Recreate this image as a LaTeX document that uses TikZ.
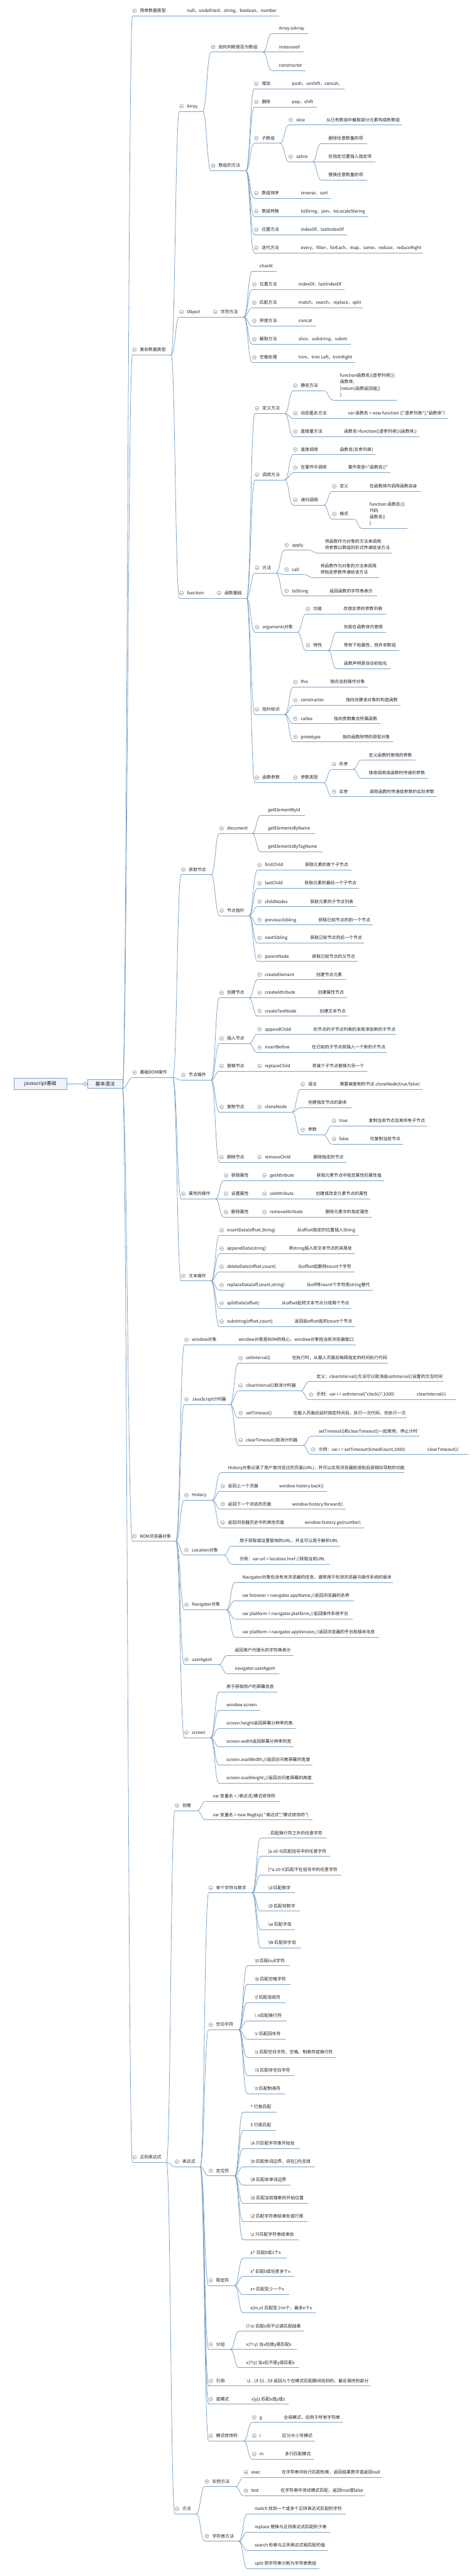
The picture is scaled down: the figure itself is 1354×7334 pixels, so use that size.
\documentclass[tikz,border=0pt]{standalone}
\usepackage{fontspec}
\newfontfamily\cjkf{Noto Sans CJK SC}
\definecolor{lc}{HTML}{7BA2C6}
\definecolor{tc}{HTML}{1E1E1E}
\definecolor{cc}{HTML}{8C8C8C}
\definecolor{bf}{HTML}{EEF4FA}
\tikzset{
  ln/.style={draw=lc, line width=0.7pt},
  tx/.style={anchor=south west, inner sep=0pt, text depth=4.9pt, align=left, text=tc,
    font=\cjkf\fontsize{6.15pt}{9.1pt}\selectfont},
  cir/.style={circle, draw=cc, fill=white, line width=0.5pt, minimum size=5.5pt, inner sep=0pt},
  basebox/.style={rectangle, draw=lc, fill=bf, line width=0.6pt, minimum width=49.5pt, minimum height=13pt,
    inner sep=0pt, text=tc, font=\cjkf\fontsize{7pt}{8pt}\selectfont},
  rootbox/.style={rectangle, draw=lc, fill=bf, line width=0.6pt, minimum width=75pt, minimum height=16pt,
    inner sep=0pt, text=tc, font=\cjkf\fontsize{7pt}{8pt}\selectfont}
}
\newcommand\lfn[5]{%
  \coordinate (#1-s) at (#2,#3);
  \coordinate (#1-e) at (#4,#3);
  \draw[ln] (#1-s) -- (#1-e);
  \node[tx] (#1) at ({#2+21},#3) {#5};}
\newcommand\prn[5]{%
  \lfn{#1}{#2}{#3}{#4}{#5}%
  \node[cir] (#1-c) at ({#2+6},{#3-14.5}) {};
  \draw[cc, line width=0.5pt] ({#2+3.2},{#3-14.5}) -- ({#2+8.8},{#3-14.5});}
\newcommand\cnx[2]{\draw[ln] (#1-e) .. controls +(12,0) and +(-12,0) .. (#2-s);}
\begin{document}
\begin{tikzpicture}[x=0.5pt,y=-0.5pt]
\fill[white] (0,0) rectangle (1354,7334);
\useasboundingbox (0,0) rectangle (1354,7334);

% root and main branch
\node[rootbox] (root) at (115,3086) {javascript基础};
\node[basebox] (base) at (299.5,3086) {基本语法};
\coordinate (base-s) at (243,3086);
\coordinate (base-e) at (349,3099);
\draw[ln] (root.east) -- (base-s);
\node[cir] (base-c) at (base-s) {};
\draw[cc, line width=0.5pt] (240.2,3086) -- (245.8,3086);

% ===== level 1 =====
\prn{s1}{377}{45.5}{487}{简单数据类型}
\prn{c1}{377}{1010.4}{487}{复杂数据类型}
\prn{d1}{377}{3068}{492}{基础DOM操作}
\prn{b1}{377}{4388.2}{501}{BOM浏览器对象}
\prn{r1}{377}{6156.2}{474}{正则表达式}
\cnx{base}{s1}\cnx{base}{c1}\cnx{base}{d1}\cnx{base}{b1}\cnx{base}{r1}

\lfn{s1a}{511}{45.5}{795}{null，undefined，string，boolean，number}
\cnx{s1}{s1a}

% ===== 复杂数据类型 =====
\prn{arr}{511}{317}{577}{Array}
\prn{obj}{511}{902.5}{583}{Object}
\prn{fun}{511}{1703}{594}{function}
\cnx{c1}{arr}\cnx{c1}{obj}\cnx{c1}{fun}

\prn{arr1}{601}{148.3}{749}{如何判断是否为数组}
\lfn{arr1a}{773}{96}{878}{Array.isArray}
\lfn{arr1b}{773}{148.3}{864}{instanceof}
\lfn{arr1c}{773}{200.5}{870}{constructor}
\cnx{arr}{arr1}\cnx{arr1}{arr1a}\cnx{arr1}{arr1b}\cnx{arr1}{arr1c}

\prn{arr2}{601}{486.3}{700}{数组的方法}
\cnx{arr}{arr2}
\prn{am1}{724}{252.3}{786}{增加}
\lfn{am1a}{810}{252.3}{982}{push，unshift，concat，}
\prn{am2}{724}{304.5}{786}{删除}
\lfn{am2a}{810}{304.5}{902}{pop，shift}
\prn{am3}{724}{408}{798}{子数组}
\prn{am3a}{822}{355.9}{884}{slice}
\lfn{am3a1}{908}{355.9}{1145}{从已有数组中截取部分元素构成新数组}
\prn{am3b}{822}{460.2}{890}{splice}
\lfn{am3b1}{914}{408.1}{1045}{删除任意数量的项}
\lfn{am3b2}{914}{460.2}{1069}{在指定位置插入指定项}
\lfn{am3b3}{914}{512.4}{1045}{替换任意数量的项}
\prn{am4}{724}{564.2}{811.5}{数组排序}
\lfn{am4a}{835.5}{564.2}{942}{reverse，sort}
\prn{am5}{724}{616}{811.5}{数组转换}
\lfn{am5a}{835.5}{616}{1048.5}{toString，join，toLocaleStaring}
\prn{am6}{724}{668}{811.5}{位置方法}
\lfn{am6a}{835.5}{668}{989}{indexOf，lastIndexOf}
\prn{am7}{724}{719.8}{811.5}{迭代方法}
\lfn{am7a}{835.5}{719.8}{1205}{every，filter，forEach，map，some，reduce，reduceRight}
\cnx{arr2}{am1}\cnx{arr2}{am2}\cnx{arr2}{am3}\cnx{arr2}{am4}\cnx{arr2}{am5}\cnx{arr2}{am6}\cnx{arr2}{am7}
\cnx{am1}{am1a}\cnx{am2}{am2a}\cnx{am3}{am3a}\cnx{am3}{am3b}\cnx{am3a}{am3a1}
\cnx{am3b}{am3b1}\cnx{am3b}{am3b2}\cnx{am3b}{am3b3}
\cnx{am4}{am4a}\cnx{am5}{am5a}\cnx{am6}{am6a}\cnx{am7}{am7a}

\prn{sm}{607}{902.5}{694}{字符方法}
\cnx{obj}{sm}
\lfn{sm1}{718}{772.4}{788}{charAt}
\prn{sm2}{718}{824.6}{805}{位置方法}
\lfn{sm2a}{829}{824.6}{982}{indexOf，lastIndexOf}
\prn{sm3}{718}{876.4}{805}{匹配方法}
\lfn{sm3a}{829}{876.4}{1034}{match，search，replace，split}
\prn{sm4}{718}{928.2}{805}{拼接方法}
\lfn{sm4a}{829}{928.2}{899}{concat}
\prn{sm5}{718}{980.4}{805}{截取方法}
\lfn{sm5a}{829}{980.4}{998.5}{slice，substring，substr}
\prn{sm6}{718}{1032.2}{805}{空格处理}
\lfn{sm6a}{829}{1032.2}{1012.5}{trim，trim Left，trimRight}
\cnx{sm}{sm1}\cnx{sm}{sm2}\cnx{sm}{sm3}\cnx{sm}{sm4}\cnx{sm}{sm5}\cnx{sm}{sm6}
\cnx{sm2}{sm2a}\cnx{sm3}{sm3a}\cnx{sm4}{sm4a}\cnx{sm5}{sm5a}\cnx{sm6}{sm6a}

% function
\prn{fb}{618}{1703}{702}{函数基础}
\cnx{fun}{fb}
\prn{f1}{726}{1177.3}{811}{定义方法}
\prn{f1a}{835}{1112.4}{923}{静态方法}
\lfn{f1a1}{947}{1138.6}{1129}{function函数名([虚参列表])\{\\函数体;\\{}[return[函数返回值]]\\\}}
\prn{f1b}{835}{1191.2}{946}{动态匿名方法}
\lfn{f1b1}{970}{1191.2}{1277}{var 函数名 = new function (["虚参列表"],"函数体")}
\prn{f1c}{835}{1242.7}{934.6}{直接量方法}
\lfn{f1c1}{958.6}{1242.7}{1193.5}{函数名=function([虚参列表])\{函数体;\}}
\cnx{fb}{f1}\cnx{f1}{f1a}\cnx{f1}{f1b}\cnx{f1}{f1c}\cnx{f1a}{f1a1}\cnx{f1b}{f1b1}\cnx{f1c}{f1c1}

\prn{f2}{726}{1366}{811}{调用方法}
\prn{f2a}{835}{1294.1}{922.6}{直接调用}
\lfn{f2a1}{946.6}{1294.1}{1069}{函数名(实参列表)}
\prn{f2b}{835}{1345.9}{946}{在事件中调用}
\lfn{f2b1}{970}{1345.9}{1112.6}{事件类型="函数名()"}
\prn{f2c}{835}{1438}{922}{递归调用}
\prn{f2c1}{946}{1399.3}{1007}{定义}
\lfn{f2c1a}{1031}{1399.3}{1197}{在函数体内调用函数自身}
\prn{f2c2}{946}{1478}{1007}{格式}
\lfn{f2c2a}{1031}{1504.9}{1161}{function 函数名()\{\\代码\\函数名()\\\}}
\cnx{fb}{f2}\cnx{f2}{f2a}\cnx{f2}{f2b}\cnx{f2}{f2c}\cnx{f2a}{f2a1}\cnx{f2b}{f2b1}
\cnx{f2c}{f2c1}\cnx{f2c}{f2c2}\cnx{f2c1}{f2c1a}\cnx{f2c2}{f2c2a}

\prn{f3}{726}{1631}{786}{方法}
\prn{f3a}{810}{1566.2}{880}{apply}
\lfn{f3a1}{904}{1574.8}{1117.7}{将函数作为对象的方法来调用\\将参数以数组的形式传递给该方法}
\prn{f3b}{810}{1636.1}{867}{call}
\lfn{f3b1}{891}{1644.8}{1080}{将函数作为对象的方法来调用\\将指定参数传递给该方法}
\prn{f3c}{810}{1697}{893}{toString}
\lfn{f3c1}{917}{1697}{1073.5}{返回函数的字符串表示}
\cnx{fb}{f3}\cnx{f3}{f3a}\cnx{f3}{f3b}\cnx{f3}{f3c}\cnx{f3a}{f3a1}\cnx{f3b}{f3b1}\cnx{f3c}{f3c1}

\prn{f4}{726}{1799.8}{847}{arguments对象}
\prn{f4a}{871}{1748}{933}{功能}
\lfn{f4a1}{957}{1748}{1099.3}{存放实参的参数列表}
\prn{f4b}{871}{1851.8}{934}{特性}
\lfn{f4b1}{958}{1799.8}{1099}{仅能在函数体内使用}
\lfn{f4b2}{958}{1851.8}{1137}{带有下标属性，但并非数组}
\lfn{f4b3}{958}{1904}{1112.6}{函数声明是自动初始化}
\cnx{fb}{f4}\cnx{f4}{f4a}\cnx{f4}{f4b}\cnx{f4a}{f4a1}\cnx{f4b}{f4b1}\cnx{f4b}{f4b2}\cnx{f4b}{f4b3}

\prn{f5}{726}{2034}{811}{指针标识}
\prn{f5a}{835}{1956.2}{895}{this}
\lfn{f5a1}{919}{1956.2}{1048}{指向当前操作对象}
\prn{f5b}{835}{2008.4}{939.5}{constructor}
\lfn{f5b1}{963.5}{2008.4}{1140}{指向创建该对象的构造函数}
\prn{f5c}{835}{2060.6}{905.7}{callee}
\lfn{f5c1}{929.7}{2060.6}{1083}{指向参数集合所属函数}
\prn{f5d}{835}{2112.4}{930}{prototype}
\lfn{f5d1}{954}{2112.4}{1118.4}{指向函数附带的原型对象}
\cnx{fb}{f5}\cnx{f5}{f5a}\cnx{f5}{f5b}\cnx{f5}{f5c}\cnx{f5}{f5d}
\cnx{f5a}{f5a1}\cnx{f5b}{f5b1}\cnx{f5c}{f5c1}\cnx{f5d}{f5d1}

\prn{f6}{726}{2228.6}{811}{函数参数}
\prn{f6a}{835}{2228.6}{921}{参数类型}
\prn{f6a1}{945}{2189.9}{1005}{形参}
\lfn{f6a1a}{1029}{2164.2}{1184}{定义函数时使用的参数}
\lfn{f6a1b}{1029}{2216}{1220}{接收调用该函数时传递的参数}
\prn{f6a2}{945}{2268.2}{1007}{实参}
\lfn{f6a2a}{1031}{2268.2}{1244.3}{调用函数时传递给参数的实际参数}
\cnx{fb}{f6}\cnx{f6}{f6a}\cnx{f6a}{f6a1}\cnx{f6a}{f6a2}\cnx{f6a1}{f6a1a}\cnx{f6a1}{f6a1b}\cnx{f6a2}{f6a2a}

% ===== 基础DOM操作 =====
\prn{d2}{516}{2490.2}{601}{获取节点}
\prn{d2a}{625}{2373}{718}{document}
\lfn{d2a1}{742}{2321.1}{868}{getElementById}
\lfn{d2a2}{742}{2373}{897}{getElementsByName}
\lfn{d2a3}{742}{2425.3}{918}{getElementsByTagName}
\cnx{d1}{d2}\cnx{d2}{d2a}\cnx{d2a}{d2a1}\cnx{d2a}{d2a2}\cnx{d2a}{d2a3}
\prn{d2b}{625}{2606.8}{709}{节点指针}
\prn{d2b1}{733}{2477.5}{823}{firstChild}
\lfn{d2b1a}{847}{2477.5}{1000}{获取元素的首个子节点}
\prn{d2b2}{733}{2529.3}{822}{lastChild}
\lfn{d2b2a}{846}{2529.3}{1022}{获取元素的最后一个子节点}
\prn{d2b3}{733}{2581.5}{838}{childNodes}
\lfn{d2b3a}{862}{2581.5}{1015.4}{获取元素的子节点列表}
\prn{d2b4}{733}{2633.3}{861.5}{previousSibling}
\lfn{d2b4a}{885.5}{2633.3}{1061}{获取已知节点的前一个节点}
\prn{d2b5}{733}{2685.1}{838}{nextSibling}
\lfn{d2b5a}{862}{2685.1}{1037.5}{获取已知节点的后一个节点}
\prn{d2b6}{733}{2737.3}{843}{parentNode}
\lfn{d2b6a}{867}{2737.3}{1019}{获取已知节点的父节点}
\cnx{d2}{d2b}\cnx{d2b}{d2b1}\cnx{d2b}{d2b2}\cnx{d2b}{d2b3}\cnx{d2b}{d2b4}\cnx{d2b}{d2b5}\cnx{d2b}{d2b6}
\cnx{d2b1}{d2b1a}\cnx{d2b2}{d2b2a}\cnx{d2b3}{d2b3a}\cnx{d2b4}{d2b4a}\cnx{d2b5}{d2b5a}\cnx{d2b6}{d2b6a}

\prn{d3}{516}{3075.1}{601}{节点操作}
\prn{d3a}{625}{2840.9}{709}{创建节点}
\prn{d3a1}{733}{2789.1}{855}{createElement}
\lfn{d3a1a}{879}{2789.1}{984}{创建节点元素}
\prn{d3a2}{733}{2840.9}{860}{createAttribute}
\lfn{d3a2a}{884}{2840.9}{987.5}{创建属性节点}
\prn{d3a3}{733}{2893}{865}{createTextNode}
\lfn{d3a3a}{889}{2893}{992.6}{创建文本节点}
\prn{d3b}{625}{2971}{709}{插入节点}
\prn{d3b1}{733}{2945}{847}{appendChild}
\lfn{d3b1a}{871}{2945}{1128.7}{向节点的子节点列表的末尾添加新的子节点}
\prn{d3b2}{733}{2996.7}{843}{insertBefore}
\lfn{d3b2a}{867}{2996.7}{1102}{在已知的子节点前插入一个新的子节点}
\prn{d3c}{625}{3049.4}{709}{替换节点}
\prn{d3c1}{733}{3049.4}{844}{replaceChild}
\lfn{d3c1a}{868}{3049.4}{1044.8}{将某个子节点替换为另一个}
\prn{d3d}{625}{3166}{709}{复制节点}
\prn{d3d1}{733}{3166}{832}{cloneNode}
\prn{d3d1a}{856}{3101.2}{922.6}{语法}
\lfn{d3d1a1}{946.6}{3101.2}{1202.4}{需要被复制的节点.cloneNode(true/false)}
\lfn{d3d1b}{856}{3153.4}{1000}{创建指定节点的副本}
\prn{d3d1c}{856}{3231.3}{921}{参数}
\prn{d3d1c1}{945}{3205.2}{1005}{true}
\lfn{d3d1c1a}{1029}{3205.2}{1216.3}{复制当前节点及其所有子节点}
\prn{d3d1c2}{945}{3257}{1008.7}{false}
\lfn{d3d1c2a}{1032.7}{3257}{1147}{仅复制当前节点}
\prn{d3e}{625}{3308.8}{709}{删除节点}
\prn{d3e1}{733}{3308.8}{847}{removeChild}
\lfn{d3e1a}{871}{3308.8}{986}{删除指定的节点}
\cnx{d1}{d3}\cnx{d3}{d3a}\cnx{d3}{d3b}\cnx{d3}{d3c}\cnx{d3}{d3d}\cnx{d3}{d3e}
\cnx{d3a}{d3a1}\cnx{d3a}{d3a2}\cnx{d3a}{d3a3}\cnx{d3a1}{d3a1a}\cnx{d3a2}{d3a2a}\cnx{d3a3}{d3a3a}
\cnx{d3b}{d3b1}\cnx{d3b}{d3b2}\cnx{d3b1}{d3b1a}\cnx{d3b2}{d3b2a}
\cnx{d3c}{d3c1}\cnx{d3c1}{d3c1a}
\cnx{d3d}{d3d1}\cnx{d3d1}{d3d1a}\cnx{d3d1}{d3d1b}\cnx{d3d1}{d3d1c}\cnx{d3d1a}{d3d1a1}
\cnx{d3d1c}{d3d1c1}\cnx{d3d1c}{d3d1c2}\cnx{d3d1c1}{d3d1c1a}\cnx{d3d1c2}{d3d1c2a}
\cnx{d3e}{d3e1}\cnx{d3e1}{d3e1a}

\prn{d4}{516}{3413.2}{613.5}{属性的操作}
\prn{d4a}{637.5}{3361}{723}{获取属性}
\prn{d4a1}{747}{3361}{856.4}{getAttribute}
\lfn{d4a1a}{880.4}{3361}{1093.4}{获取元素节点中指定属性的属性值}
\prn{d4b}{637.5}{3413.2}{723}{设置属性}
\prn{d4b1}{747}{3413.2}{854}{setAttribute}
\lfn{d4b1a}{878}{3413.2}{1054.4}{创建或改变元素节点的属性}
\prn{d4c}{637.5}{3465.4}{723}{删除属性}
\prn{d4c1}{747}{3465.4}{881.4}{removeAttribute}
\lfn{d4c1a}{905.4}{3465.4}{1057.4}{删除元素中的指定属性}
\cnx{d1}{d4}\cnx{d4}{d4a}\cnx{d4}{d4b}\cnx{d4}{d4c}
\cnx{d4a}{d4a1}\cnx{d4b}{d4b1}\cnx{d4c}{d4c1}\cnx{d4a1}{d4a1a}\cnx{d4b1}{d4b1a}\cnx{d4c1}{d4c1a}

\prn{d5}{516}{3647}{601}{文本操作}
\prn{d5a}{625}{3516.8}{801}{insertData(offset,String)}
\lfn{d5a1}{825}{3516.8}{1020}{从offset指定的位置插入String}
\prn{d5b}{625}{3569.4}{776.9}{appendData(string)}
\lfn{d5b1}{800.9}{3569.4}{1009.5}{将string插入到文本节点的末尾处}
\prn{d5c}{625}{3621}{803.4}{deleteDate(offset,count)}
\lfn{d5c1}{827.4}{3621}{1009.5}{从offset起删除count个字符}
\prn{d5d}{625}{3673.1}{828.4}{replaceData(off,count,string)}
\lfn{d5d1}{852.4}{3673.1}{1062.5}{从off将count个字符用string替代}
\prn{d5e}{625}{3725}{757}{splitData(offset)}
\lfn{d5e1}{781}{3725}{1000.7}{从offset起将文本节点分成两个节点}
\prn{d5f}{625}{3777.1}{793.8}{substring(offset,count)}
\lfn{d5f1}{817.8}{3777.1}{1011.8}{返回由offset起的count个节点}
\cnx{d1}{d5}\cnx{d5}{d5a}\cnx{d5}{d5b}\cnx{d5}{d5c}\cnx{d5}{d5d}\cnx{d5}{d5e}\cnx{d5}{d5f}
\cnx{d5a}{d5a1}\cnx{d5b}{d5b1}\cnx{d5c}{d5c1}\cnx{d5d}{d5d1}\cnx{d5e}{d5e1}\cnx{d5f}{d5f1}

% ===== BOM =====
\prn{b2}{525}{3829}{634}{window对象}
\lfn{b2a}{658}{3829}{1013}{window对象是BOM的核心，window对象指当前浏览器窗口}
\cnx{b1}{b2}\cnx{b2}{b2a}

\prn{b3}{525}{3998.2}{655}{JavaScript计时器}
\prn{b3a}{679}{3881.1}{786.4}{setInterval()}
\lfn{b3a1}{810.4}{3881.1}{1105}{在执行时，从载入页面后每隔指定的时间执行代码}
\prn{b3b}{679}{3959.4}{856}{clearInterval()取消计时器}
\lfn{b3b1}{880}{3933.3}{1262.7}{定义：clearInterval()方法可以取消由setInterval()设置的交互时间}
\prn{b3b2}{880}{3985.1}{1141}{示例：var i = setInterval("clock()",1000)}
\lfn{b3b2a}{1165}{3985.1}{1298.7}{clearInterval(i)}
\prn{b3c}{679}{4037.3}{790}{setTimeout()}
\lfn{b3c1}{814}{4037.3}{1159}{在载入页面后延时指定时间后，执行一次代码，仅执行一次}
\prn{b3d}{679}{4114.8}{862}{clearTimeout()取消计时器}
\lfn{b3d1}{886}{4089.1}{1193.5}{setTimeout()和clearTimeout()一起使用，停止计时}
\prn{b3d2}{886}{4140.9}{1172}{示例：var i = setTimeout(timedCount,1000)}
\lfn{b3d2a}{1196}{4140.9}{1333.4}{clearTimeout(i)}
\cnx{b1}{b3}\cnx{b3}{b3a}\cnx{b3}{b3b}\cnx{b3}{b3c}\cnx{b3}{b3d}
\cnx{b3a}{b3a1}\cnx{b3b}{b3b1}\cnx{b3b}{b3b2}\cnx{b3b2}{b3b2a}\cnx{b3c}{b3c1}
\cnx{b3d}{b3d1}\cnx{b3d}{b3d2}\cnx{b3d2}{b3d2a}

\prn{b4}{525}{4271.2}{604}{History}
\lfn{b4a}{628}{4193.1}{1151.6}{History对象记录了用户曾浏览过的页面(URL)，并可以实现浏览器前进和后退相似导航的功能}
\prn{b4b}{628}{4245.1}{749.6}{返回上一个页面}
\lfn{b4b1}{773.6}{4245.1}{930.8}{window.history.back()}
\prn{b4c}{628}{4296.9}{786.4}{返回下一个浏览的页面}
\lfn{b4c1}{810.4}{4296.9}{985.2}{window.history.forward()}
\prn{b4d}{628}{4349.1}{822.5}{返回浏览器历史中的其他页面}
\lfn{b4d1}{846.5}{4349.1}{1036}{window.history.go(number)}
\cnx{b1}{b4}\cnx{b4}{b4a}\cnx{b4}{b4b}\cnx{b4}{b4c}\cnx{b4}{b4d}
\cnx{b4b}{b4b1}\cnx{b4c}{b4c1}\cnx{b4d}{b4d1}

\prn{b5}{525}{4427.4}{637}{Location对象}
\lfn{b5a}{661}{4400.9}{968}{用于获取或设置窗体的URL，并且可以用于解析URL}
\lfn{b5b}{661}{4453.1}{938}{示例：var url = location.href //获取当前URL}
\cnx{b1}{b5}\cnx{b5}{b5a}\cnx{b5}{b5b}

\prn{b6}{525}{4583.1}{645}{Navigator对象}
\lfn{b6a}{669}{4505.2}{1118.4}{Navigator对象包含有关浏览器的信息，通常用于检测浏览器与操作系统的版本}
\lfn{b6b}{669}{4557}{1008}{var browser = navigator.appName;//返回浏览器的名称}
\lfn{b6c}{669}{4609.2}{1005}{var platform = navigator.platform;//返回操作系统平台}
\lfn{b6d}{669}{4661}{1080}{var platform = navigator.appVersion;//返回浏览器的平台和版本信息}
\cnx{b1}{b6}\cnx{b6}{b6a}\cnx{b6}{b6b}\cnx{b6}{b6c}\cnx{b6}{b6d}

\prn{b7}{525}{4739}{623}{userAgent}
\lfn{b7a}{647}{4713.2}{835.8}{返回用户代理头的字符串表示}
\lfn{b7b}{647}{4765}{794.6}{navigator.userAgent}
\cnx{b1}{b7}\cnx{b7}{b7a}\cnx{b7}{b7b}

\prn{b8}{525}{4947.1}{599.5}{screen}
\lfn{b8a}{623.5}{4817.4}{788.8}{用于获取用户的屏幕信息}
\lfn{b8b}{623.5}{4869.6}{741}{window.screen}
\lfn{b8c}{623.5}{4921.4}{841}{screen.height返回屏幕分辨率的高}
\lfn{b8d}{623.5}{4973.2}{835.8}{screen.width返回屏幕分辨率的宽}
\lfn{b8e}{623.5}{5025.4}{890.3}{screen.availWidth;//返回访问者屏幕的宽度}
\lfn{b8f}{623.5}{5077.2}{894}{screen.availHeight;//返回访问者屏幕的高度}
\cnx{b1}{b8}\cnx{b8}{b8a}\cnx{b8}{b8b}\cnx{b8}{b8c}\cnx{b8}{b8d}\cnx{b8}{b8e}\cnx{b8}{b8f}

% ===== 正则表达式 =====
\prn{r2}{498}{5155}{561}{创建}
\lfn{r2a}{585}{5129}{796.8}{var 变量名 = /表达式/模式修饰符}
\lfn{r2b}{585}{5181.2}{890.3}{var 变量名 = new RegExp( "表达式","模式修饰符")}
\cnx{r1}{r2}\cnx{r2}{r2a}\cnx{r2}{r2b}

\prn{r3}{498}{6168.8}{570}{表达式}
\cnx{r1}{r3}
\prn{r3a}{594}{5389.2}{718}{单个字符与数字}
\lfn{r3a1}{742}{5233.4}{928.6}{. 匹配换行符之外的任意字符}
\lfn{r3a2}{742}{5285.2}{939.6}{[a-z0-9]匹配括号中的任意字符}
\lfn{r3a3}{742}{5337.4}{972.7}{[\textasciicircum a-z0-9]匹配不在括号中的任意字符}
\lfn{r3a4}{742}{5389.2}{840.3}{\textbackslash d 匹配数字}
\lfn{r3a5}{742}{5441.1}{854.3}{\textbackslash D 匹配非数字}
\lfn{r3a6}{742}{5493.3}{840.3}{\textbackslash w 匹配字母}
\lfn{r3a7}{742}{5545.1}{855.7}{\textbackslash W 匹配非字母}
\cnx{r3}{r3a}\cnx{r3a}{r3a1}\cnx{r3a}{r3a2}\cnx{r3a}{r3a3}\cnx{r3a}{r3a4}\cnx{r3a}{r3a5}\cnx{r3a}{r3a6}\cnx{r3a}{r3a7}

\prn{r3b}{594}{5779.2}{680}{空白字符}
\lfn{r3b1}{704}{5596.9}{825.5}{\textbackslash 0 匹配null字符}
\lfn{r3b2}{704}{5649.1}{827.7}{\textbackslash b 匹配空格字符}
\lfn{r3b3}{704}{5701.3}{813}{\textbackslash f 匹配进纸符}
\lfn{r3b4}{704}{5753.1}{816}{\textbackslash\ n匹配换行符}
\lfn{r3b5}{704}{5805.3}{813}{\textbackslash r 匹配回车符}
\lfn{r3b6}{704}{5857.1}{958}{\textbackslash s 匹配空白字符、空格、制表符或换行符}
\lfn{r3b7}{704}{5909.3}{838.8}{\textbackslash S 匹配非空白字符}
\lfn{r3b8}{704}{5961.1}{813}{\textbackslash t 匹配制表符}
\cnx{r3}{r3b}\cnx{r3b}{r3b1}\cnx{r3b}{r3b2}\cnx{r3b}{r3b3}\cnx{r3b}{r3b4}\cnx{r3b}{r3b5}\cnx{r3b}{r3b6}\cnx{r3b}{r3b7}\cnx{r3b}{r3b8}

\prn{r3c}{594}{6194.9}{668}{定位符}
\lfn{r3c1}{692}{6013.3}{787.3}{\textasciicircum\ 行首匹配}
\lfn{r3c2}{692}{6065.2}{786.5}{\$ 行尾匹配}
\lfn{r3c3}{692}{6117.4}{853.5}{\textbackslash A 只匹配字符串开始处}
\lfn{r3c4}{692}{6169.2}{896.2}{\textbackslash b 匹配单词边界，词在[]内无效}
\lfn{r3c5}{692}{6221.4}{827.7}{\textbackslash B 匹配非单词边界}
\lfn{r3c6}{692}{6273.2}{877}{\textbackslash G 匹配当前搜索的开始位置}
\lfn{r3c7}{692}{6325}{875.6}{\textbackslash Z 匹配字符串结束处或行尾}
\lfn{r3c8}{692}{6377.2}{850.6}{\textbackslash z 只匹配字符串结束处}
\cnx{r3}{r3c}\cnx{r3c}{r3c1}\cnx{r3c}{r3c2}\cnx{r3c}{r3c3}\cnx{r3c}{r3c4}\cnx{r3c}{r3c5}\cnx{r3c}{r3c6}\cnx{r3c}{r3c7}\cnx{r3c}{r3c8}

\prn{r3d}{594}{6506.9}{668}{限定符}
\lfn{r3d1}{692}{6429}{816.7}{x?\ \ 匹配0或1个x}
\lfn{r3d2}{692}{6481.2}{838.8}{x* 匹配0或任意多个x}
\lfn{r3d3}{692}{6533}{824.1}{x+ 匹配至少一个x}
\lfn{r3d4}{692}{6585.2}{899}{x\{m,n\} 匹配至少m个，最多n个x}
\cnx{r3}{r3d}\cnx{r3d}{r3d1}\cnx{r3d}{r3d2}\cnx{r3d}{r3d3}\cnx{r3d}{r3d4}

\prn{r3e}{594}{6688.9}{656}{分组}
\lfn{r3e1}{680}{6637}{866.8}{(?:x) 匹配x但不记录匹配结果}
\lfn{r3e2}{680}{6688.9}{845.4}{x(?=y) 当x后接y是匹配x}
\lfn{r3e3}{680}{6740.9}{852}{x(?!y) 当x后不是y是匹配x}
\cnx{r3}{r3e}\cnx{r3e}{r3e1}\cnx{r3e}{r3e2}\cnx{r3e}{r3e3}

\prn{r3f}{594}{6792.9}{657}{引用}
\lfn{r3f1}{681}{6792.9}{1055.2}{\textbackslash 1...\textbackslash 9 \$1...\$9 返回九个在模式匹配期间找到的、最近保持的部分}
\prn{r3g}{594}{6844.8}{671}{或模式}
\lfn{r3g1}{695}{6844.8}{821.9}{x|y|z 匹配x或y或z}
\cnx{r3}{r3f}\cnx{r3f}{r3f1}\cnx{r3}{r3g}\cnx{r3g}{r3g1}

\prn{r3h}{594}{6949.2}{694}{模式修饰符}
\prn{r3h1}{718}{6896.8}{763}{g}
\lfn{r3h1a}{787}{6896.8}{975}{全局模式，应用于所有字符串}
\prn{r3h2}{718}{6949.2}{758.5}{i}
\lfn{r3h2a}{782.5}{6949.2}{897.7}{区分大小写模式}
\prn{r3h3}{718}{7001.2}{766}{m}
\lfn{r3h3a}{790}{7001.2}{894}{多行匹配模式}
\cnx{r3}{r3h}\cnx{r3h}{r3h1}\cnx{r3h}{r3h2}\cnx{r3h}{r3h3}
\cnx{r3h1}{r3h1a}\cnx{r3h2}{r3h2a}\cnx{r3h3}{r3h3a}

\prn{r4}{498}{7157}{559}{方法}
\prn{r4a}{583}{7079.3}{670}{实例方法}
\prn{r4a1}{694}{7053.1}{757}{exec}
\lfn{r4a1a}{781}{7053.1}{1086.8}{在字符串中执行匹配检索，返回结果数字或返回null}
\prn{r4a2}{694}{7105.6}{754}{test}
\lfn{r4a2a}{778}{7105.6}{1040.5}{在字符串中测试模式匹配，返回true或false}
\prn{r4b}{583}{7235.2}{680}{字符串方法}
\lfn{r4b1}{704}{7157}{984}{match 找到一个或多个正则表达式匹配的字符}
\lfn{r4b2}{704}{7209}{940}{replace 替换与正则表达式匹配的子串}
\lfn{r4b3}{704}{7261}{935}{search 检索与正则表达式相匹配的值}
\lfn{r4b4}{704}{7313}{910}{split 把字符串分割为字符串数组}
\cnx{r1}{r4}\cnx{r4}{r4a}\cnx{r4}{r4b}\cnx{r4a}{r4a1}\cnx{r4a}{r4a2}\cnx{r4a1}{r4a1a}\cnx{r4a2}{r4a2a}
\cnx{r4b}{r4b1}\cnx{r4b}{r4b2}\cnx{r4b}{r4b3}\cnx{r4b}{r4b4}
\end{tikzpicture}
\end{document}
